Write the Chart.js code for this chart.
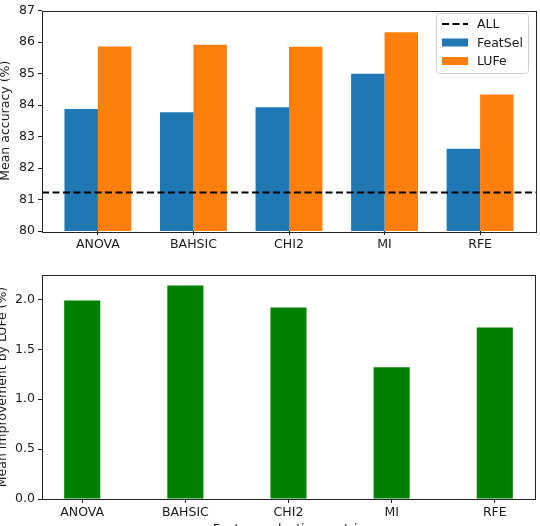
<!DOCTYPE html>
<html lang="en">
<head>
  <meta charset="UTF-8">
  <title>FeatSel vs LUFe</title>
  <script src="https://cdn.jsdelivr.net/npm/chart.js"></script>
  <style>
    html, body {
      margin: 0;
      padding: 0;
      background: white;
      overflow: hidden;
      width: 540px;
      height: 526px;
    }
    .panel { position: absolute; left: 0; }
    #top { top: 0; }
    #bottom { top: 258px; }
  </style>
</head>
<body>
  <canvas id="top" class="panel" width="540" height="258"></canvas>
  <canvas id="bottom" class="panel" width="540" height="285"></canvas>

  <script>
    const metrics = ["ANOVA", "BAHSIC", "CHI2", "MI", "RFE"];
    const featSel = [83.87, 83.77, 83.93, 84.99, 82.61];
    const lufe = [85.86, 85.91, 85.85, 86.31, 84.33];
    const allFeatures = 81.22;
    const improvement = [1.99, 2.14, 1.92, 1.32, 1.72];
    const accTicks = [80, 81, 82, 83, 84, 85, 86, 87];
    const impTicks = [0, 0.5, 1.0, 1.5, 2.0];

    const FONT = "'DejaVu Sans', sans-serif";
    const TEXT = "#1a1a1a";
    Chart.defaults.font.family = FONT;
    Chart.defaults.color = TEXT;

    const toPoints = vals => vals.map((v, i) => ({ x: i, y: v }));

    // box round the plot area, like matplotlib spines
    const frame = {
      id: "frame",
      afterDatasetsDraw(chart) {
        const a = chart.chartArea, c = chart.ctx;
        c.save();
        c.strokeStyle = "#222";
        c.lineWidth = 1;
        c.strokeRect(Math.round(a.left) + 0.5, Math.round(a.top) + 0.5,
                     Math.round(a.right - a.left), Math.round(a.bottom - a.top));
        c.restore();
      }
    };

    // legend drawn inside the upper right corner
    const cornerLegend = {
      id: "cornerLegend",
      afterDraw(chart) {
        const c = chart.ctx;
        const x = 436, y = 13, w = 92, h = 60;
        c.save();
        c.beginPath();
        c.roundRect(x + 0.5, y + 0.5, w, h, 3);
        c.fillStyle = "rgba(255,255,255,0.85)";
        c.fill();
        c.strokeStyle = "#d0d0d0";
        c.lineWidth = 1;
        c.stroke();
        c.font = "12.5px " + FONT;
        c.textBaseline = "middle";
        chart.data.datasets.forEach((ds, i) => {
          const cy = y + 11 + i * 18.5;
          if (ds.type === "line") {
            c.strokeStyle = ds.borderColor;
            c.lineWidth = ds.borderWidth;
            c.setLineDash(ds.borderDash);
            c.beginPath();
            c.moveTo(x + 6, cy);
            c.lineTo(x + 32, cy);
            c.stroke();
            c.setLineDash([]);
          } else {
            c.fillStyle = ds.backgroundColor;
            c.fillRect(x + 6, cy - 4, 26, 8);
          }
          c.fillStyle = TEXT;
          c.fillText(ds.label, x + 41, cy + 1);
        });
        c.restore();
      }
    };

    function xAxis(min, max, height, title) {
      return {
        type: "linear",
        min: min,
        max: max,
        offset: false,
        afterBuildTicks: s => { s.ticks = metrics.map((m, i) => ({ value: i })); },
        afterFit: s => { s.height = height; },
        ticks: {
          includeBounds: false,
          autoSkip: false,
          maxRotation: 0,
          padding: 2,
          font: { size: 12.5 },
          callback: v => metrics[v]
        },
        grid: { offset: false, drawOnChartArea: false, drawTicks: true, tickLength: 4, color: "#222", tickWidth: 1 },
        border: { display: false },
        title: title
      };
    }

    function yAxis(min, max, ticks, fmt, titleText, titlePad) {
      return {
        min: min,
        max: max,
        afterBuildTicks: s => { s.ticks = ticks.map(v => ({ value: v })); },
        afterFit: s => { s.width = 42; },
        ticks: { padding: 3, font: { size: 12.5 }, callback: fmt },
        grid: { drawOnChartArea: false, drawTicks: true, tickLength: 4, color: "#222", tickWidth: 1 },
        border: { display: false },
        title: {
          display: true,
          text: titleText,
          font: { size: 12.5 },
          padding: { top: titlePad, bottom: 0 }
        }
      };
    }

    new Chart(document.getElementById("top"), {
      type: "bar",
      data: {
        datasets: [
          {
            type: "line",
            label: "ALL",
            data: [{ x: -0.585, y: allFeatures }, { x: 4.585, y: allFeatures }],
            borderColor: "#000",
            borderWidth: 2,
            borderDash: [7, 3.5],
            pointRadius: 0
          },
          { label: "FeatSel", data: toPoints(featSel), backgroundColor: "#1f77b4" },
          { label: "LUFe", data: toPoints(lufe), backgroundColor: "#ff7f0e" }
        ]
      },
      options: {
        responsive: false,
        animation: false,
        layout: { padding: { top: 9, right: 4, left: 0, bottom: 0 } },
        datasets: { bar: { categoryPercentage: 0.7, barPercentage: 1.0 } },
        plugins: { legend: { display: false }, tooltip: { enabled: false } },
        scales: {
          x: xAxis(-0.585, 4.585, 27, { display: false }),
          y: yAxis(80, 87, accTicks, v => String(v), "Mean accuracy (%)", -1.5)
        }
      },
      plugins: [frame, cornerLegend]
    });

    new Chart(document.getElementById("bottom"), {
      type: "bar",
      data: {
        datasets: [
          { label: "Improvement", data: toPoints(improvement), backgroundColor: "#008000" }
        ]
      },
      options: {
        responsive: false,
        animation: false,
        layout: { padding: { top: 17, right: 5, left: 0, bottom: 0 } },
        datasets: { bar: { categoryPercentage: 0.35, barPercentage: 1.0 } },
        plugins: { legend: { display: false }, tooltip: { enabled: false } },
        scales: {
          x: xAxis(-0.39, 4.39, 44, {
            display: true,
            text: "Feature selection metric",
            font: { size: 12.5 },
            padding: { top: 0, bottom: 6 }
          }),
          y: yAxis(0, 2.245, impTicks, v => v.toFixed(1), "Mean improvement by LUFe (%)", -4.5)
        }
      },
      plugins: [frame]
    });
  </script>
</body>
</html>
